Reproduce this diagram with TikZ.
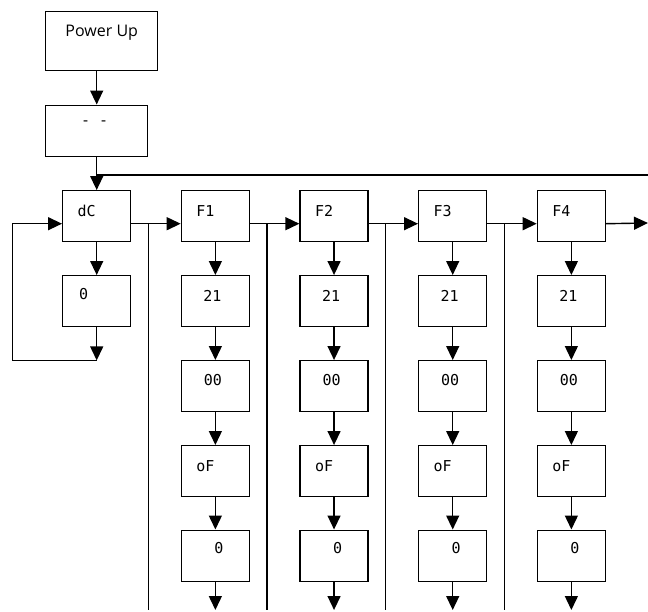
\documentclass[tikz,border=0pt]{standalone}
\usepackage{fontspec}
\setmainfont{Open Sans}
\newfontfamily\segfont{DejaVu Sans Mono}
\usetikzlibrary{arrows.meta,calc}
\begin{document}
\begin{tikzpicture}[x=1pt,y=-1pt,
  box/.style={draw,line width=1.4pt,minimum width=68pt,minimum height=51pt,inner sep=0pt,anchor=north west},
  conn/.style={line width=1.4pt},
  tip/.tip={Triangle[length=14pt,width=13pt]},
  arr/.style={conn,-tip},
  seg/.style={font=\segfont\fontsize{15}{15}\selectfont},
  lbl/.style={font=\fontsize{16}{16}\selectfont}
]
\useasboundingbox (0,0) rectangle (648,611);
\coordinate (bot) at (0,610);
\coordinate (topR) at (648,173);
\coordinate (outR) at (648,223);
% top boxes
\node[box,minimum width=112pt,minimum height=59pt,label={[lbl,yshift=8pt]center:Power Up}] (pu) at (45,11) {};
\node[box,minimum width=102pt,minimum height=51pt,label={[seg,xshift=-2pt,yshift=8pt]center:- -}] (dash) at (45,104.5) {};
% column 0
\node[box,label={[seg,xshift=-10pt,yshift=5.5pt]center:dC}] (t0) at (62,190) {};
\node[box,label={[seg,xshift=-13pt,yshift=7.5pt]center:0}] (z0) at (62,275) {};
% columns 1..4
\foreach \c in {1,...,4} {
  \pgfmathsetmacro\xl{62+118.67*\c}
  \node[box,label={[seg,xshift=-10pt,yshift=5.5pt]center:F\c}] (t\c) at (\xl,190) {};
  \node[box,label={[seg,xshift=-3pt,yshift=5.5pt]center:21}] (s\c) at (\xl,275) {};
  \node[box,label={[seg,xshift=-2.5pt,yshift=6.5pt]center:00}] (u\c) at (\xl,360) {};
  \node[box,label={[seg,xshift=-10pt,yshift=5.5pt]center:oF}] (v\c) at (\xl,445) {};
  \node[box,label={[seg,xshift=3.5pt,yshift=8pt]center:0}] (w\c) at (\xl,529.5) {};
  \draw[arr] (t\c.south) -- (s\c.north);
  \draw[arr] (s\c.south) -- (u\c.north);
  \draw[arr] (u\c.south) -- (v\c.north);
  \draw[arr] (v\c.south) -- (w\c.north);
  \draw[arr] (w\c.south) -- (w\c.south |- bot);
}
% top connectors
\coordinate (split) at ($(dash.south)+(0,18)$);
\draw[arr] (pu.south -| dash.south) -- (dash.north);
\draw[arr] (dash.south) -- (t0.north);
\draw[conn] (split) -- (split -| topR);
% column 0 loop
\coordinate (lp) at ($(z0.south)+(0,33)$);
\draw[arr] (z0.south) -- (lp);
\draw[arr] (t0.south) -- (z0.north);
\draw[arr] (lp) -- ++(-84,0) |- ([yshift=-7.5pt]t0.west);
% horizontal chain and vertical lines
\foreach \a/\b in {0/1,1/2,2/3,3/4} {
  \draw[arr] ([yshift=-7.5pt]t\a.east) -- ([yshift=-7.5pt]t\b.west);
  \coordinate (j\a) at ([xshift=17pt,yshift=-7.5pt]t\a.east);
  \draw[conn] (j\a) -- (j\a |- bot);
}
\draw[arr] ([yshift=-7.5pt]t4.east) -- (outR);
\end{tikzpicture}
\end{document}
